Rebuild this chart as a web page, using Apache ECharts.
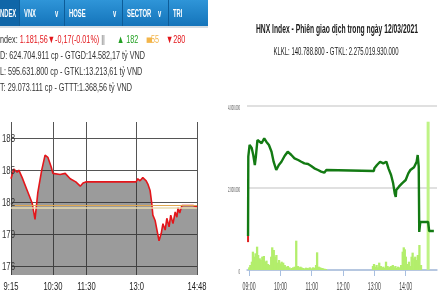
<!DOCTYPE html>
<html><head><meta charset="utf-8">
<script src="https://cdn.jsdelivr.net/npm/echarts@6/dist/echarts.min.js"></script>
<style>html,body{margin:0;padding:0;background:#fff}#c{width:440px;height:293px}</style>
</head><body><div id="c"></div>
<script>
// ---- Left panel: VN-Index intraday (clock minutes since 0:00) ----
const vnMinutes = [555,560,566,569,575,584,593,598,603,610,616,621,627,630,643,652,661,671,679,684,689,779,782,786,791,797,800,804,807,809,813,820,824,827,831,834,838,841,845,849,852,854,857,861,868,881,888];
const vnValues  = [1184.2,1185.1,1184.8,1185.0,1184.3,1183.1,1181.9,1180.4,1182.9,1185.0,1186.4,1186.2,1185.3,1184.7,1184.6,1184.7,1184.2,1183.9,1183.5,1183.8,1183.9,1183.9,1184.2,1184.0,1184.3,1184.0,1183.7,1183.1,1181.9,1180.8,1180.3,1178.4,1179.1,1180.0,1179.4,1180.5,1179.7,1180.8,1180.0,1181.1,1180.6,1181.5,1181.0,1181.7,1181.7,1181.7,1181.56];
const vnRefValue = 1181.73;
const vnTickMinutes = [555,630,690,780,888];
const vnTickLabels  = ['9:15','10:30','11:30','13:0','14:48'];
const vnYTicks = [1176,1179,1182,1185,1188];

// ---- Right panel: HNX intraday ----
const hnxMinutes = [538,538.5,541,545,548,551,553,556,559,564,569,573,578,583,587,592,597,602,608,614,621,627,634,640,646,653,659,665,672,678,684,688,779,780,785,791,797,803,807,812,816,819,821,822,827,833,840,845,849,856,861,863,865,866,868,883,885,894];
const hnxValues  = [830000,2763000,3049000,2976000,2805000,2561000,2763000,3171000,3212000,3090000,3212000,3130000,3049000,2885000,2641000,2439000,2561000,2641000,2780000,2885000,2805000,2724000,2683000,2641000,2600000,2585000,2537000,2480000,2439000,2400000,2373000,2439000,2415000,2480000,2561000,2641000,2600000,2641000,2480000,2317000,2114000,1870000,1780000,1951000,2032000,2114000,2195000,2358000,2439000,2505000,2641000,2805000,2520000,927000,1171000,1171000,951000,951000];
const hnxStartMinutes = [538,538];
const hnxStartValues  = [680000,830000];
const volMinutes = [541,543,546,548,551,553,556,558,561,563,566,569,571,574,577,580,583,585,588,590,593,595,598,600,603,606,609,612,615,618,622,625,628,631,634,636,639,641,644,647,650,653,657,660,663,666,669,671,674,677,680,682,685,688,778,780,783,785,788,790,793,796,798,801,803,806,808,811,813,816,819,821,824,826,829,832,835,837,839,841,844,847,849,852,854,857,859,862,864,867,870];
const volValues  = [65000,122000,203000,447000,325000,407000,569000,366000,285000,244000,325000,342000,203000,228000,146000,122000,325000,553000,488000,325000,366000,179000,244000,163000,203000,179000,122000,81000,98000,65000,49000,65000,81000,715000,98000,65000,81000,65000,49000,41000,57000,49000,65000,41000,65000,57000,122000,431000,81000,65000,49000,41000,33000,24000,98000,146000,81000,122000,65000,179000,98000,65000,81000,49000,203000,98000,65000,81000,98000,122000,65000,98000,49000,81000,65000,122000,447000,553000,504000,325000,146000,203000,98000,325000,423000,285000,325000,244000,366000,610000,122000];
const atcMinutes = [883];
const atcValues  = [3617000];
const hnxTickMinutes = [540,600,660,720,780,840];
const hnxYTicks = [0,2000000,4000000];

const zip = (a,b) => a.map((x,i)=>[x,b[i]]);

const chart = echarts.init(document.getElementById('c'));
chart.setOption({
  animation:false,
  backgroundColor:'#ffffff',
  grid:[{left:11, top:122, width:186, height:153},{left:247, top:106, width:190, height:164}],
  xAxis:[
    {gridIndex:0, type:'value', min:555, max:888,
     axisLine:{show:false}, axisTick:{show:false, customValues:vnTickMinutes},
     axisLabel:{show:false, customValues:vnTickMinutes},
     splitLine:{show:true, lineStyle:{color:'#555', width:1}}},
    {gridIndex:1, type:'value', min:536, max:900,
     axisLine:{show:true, lineStyle:{color:'#a8bfe0', width:1.5}},
     axisTick:{show:true, customValues:hnxTickMinutes, length:6, lineStyle:{color:'#a8bfe0', width:1}},
     axisLabel:{show:false}, splitLine:{show:false}}
  ],
  yAxis:[
    {gridIndex:0, type:'value', min:1175.2, max:1189.5,
     axisLine:{show:false}, axisTick:{show:false, customValues:vnYTicks},
     axisLabel:{show:false, customValues:vnYTicks},
     splitLine:{show:true, lineStyle:{color:'#555', width:1}}},
    {gridIndex:1, type:'value', min:0, max:4000000, interval:2000000,
     axisLine:{show:false}, axisTick:{show:false}, axisLabel:{show:false},
     splitLine:{show:true, lineStyle:{color:'#d6d6d6', width:1.5}}}
  ],
  series:[
    {type:'line', xAxisIndex:0, yAxisIndex:0, data:zip(vnMinutes,vnValues), showSymbol:false,
     lineStyle:{color:'#e3161b', width:1.6}, itemStyle:{color:'#e3161b'},
     areaStyle:{color:'#2a2a2a', opacity:0.47, origin:'start'},
     markLine:{silent:true, symbol:'none', label:{show:false},
       data:[{yAxis:vnRefValue, lineStyle:{color:'#e0a850', width:1, type:'solid'}},
             {yAxis:vnRefValue-0.2, lineStyle:{color:'#eadcb0', width:1.5, type:'solid'}}]}},
    {type:'bar', xAxisIndex:1, yAxisIndex:1, data:zip(volMinutes,volValues), barWidth:2.3, barGap:'-100%', itemStyle:{color:'#b3ee6c'}},
    {type:'bar', xAxisIndex:1, yAxisIndex:1, data:zip(atcMinutes,atcValues), barWidth:3, barGap:'-100%', itemStyle:{color:'#bff386'}},
    {type:'line', xAxisIndex:1, yAxisIndex:1, data:zip(hnxMinutes,hnxValues), showSymbol:false,
     lineStyle:{color:'#137a13', width:2.4}, itemStyle:{color:'#137a13'}},
    {type:'line', xAxisIndex:1, yAxisIndex:1, data:zip(hnxStartMinutes,hnxStartValues), showSymbol:false,
     lineStyle:{color:'#e02020', width:2}}
  ]
});

// ---- texts and header graphics ----
const mctx = document.createElement('canvas').getContext('2d');
function measure(text, font){ mctx.font = font; return mctx.measureText(text).width; }
function txt(x, y, text, o){
  const align = o.align || 'left';
  return {type:'text', x:x, y:y, scaleX:o.sx || 1, silent:true, z:100,
    style:{text:text, font:o.font, fill:o.fill || '#333', textAlign:align, align:align, textVerticalAlign:'middle', verticalAlign:'middle', rich:o.rich}};
}
const g = [];
// tab bar
g.push({type:'rect', shape:{x:0,y:0,width:208,height:26}, silent:true, z:90,
  style:{fill:new echarts.graphic.LinearGradient(0,0,0,1,[{offset:0,color:'#2f95d8'},{offset:1,color:'#1474ba'}])}});
g.push({type:'rect', shape:{x:0,y:0,width:19,height:26}, silent:true, z:91, style:{fill:'#0f66a8'}});
g.push({type:'rect', shape:{x:0,y:26,width:208,height:2}, silent:true, z:90, style:{fill:'#d5dde4'}});
[19,64,122,168].forEach(x=>g.push({type:'line', shape:{x1:x+0.5,y1:0,x2:x+0.5,y2:26}, silent:true, z:92, style:{stroke:'#0d5c98', lineWidth:1}}));
const tabFont = "bold 10px 'Liberation Sans',sans-serif";
const tabS = 12 / measure('VNX', tabFont);
[[0,'NDEX'],[24,'VNX'],[69,'HOSE'],[127,'SECTOR'],[173,'TRI'],[55,'v'],[113,'v'],[158,'v']].forEach(t=>g.push(txt(t[0],14,t[1],{font:tabFont, fill:'#ffffff', sx:tabS})));

// left header lines
const hFont = "11px 'Liberation Sans',sans-serif";
const line2 = 'D: 624.704.911 cp - GTGD:14.582,17 tỷ VND';
const hS = 145 / measure(line2, hFont);
g.push(txt(0,40,'{k|ndex: }{r|1.181,56▼-0,17(-0.01%)}{g| ||}',{font:hFont, sx:hS,
  rich:{k:{fill:'#333',color:'#333',font:hFont}, r:{fill:'#e3161b',color:'#e3161b',font:hFont}, g:{fill:'#666',color:'#666',font:hFont}}}));
g.push(txt(117,40,'▲ 182',{font:hFont, sx:hS, fill:'#23a023'}));
g.push(txt(146,40,'■',{font:"7px 'DejaVu Sans',sans-serif", sx:1, fill:'#f3b54a'}));
g.push(txt(151,40,'55',{font:hFont, sx:hS, fill:'#f3b54a'}));
g.push(txt(166,40,'▼280',{font:hFont, sx:hS, fill:'#e3161b'}));
g.push(txt(0,56,line2,{font:hFont, sx:hS}));
g.push(txt(0,72,'L: 595.631.800 cp - GTKL:13.213,61 tỷ VND',{font:hFont, sx:hS}));
g.push(txt(0,88,'T: 29.073.111 cp - GTTT:1.368,56 tỷ VND',{font:hFont, sx:hS}));

// left axis labels placed through the chart's own scales
const lFont = "10px 'Liberation Sans',sans-serif";
const lyS = 13 / measure('188', lFont);
vnYTicks.forEach(v=>{
  const p = chart.convertToPixel({gridIndex:0},[555,v]);
  g.push(txt(p[0]+4, p[1]+1, String(v).slice(1), {font:lFont, fill:'#333', align:'right', sx:lyS}));
});
const lxS = 19 / measure('10:30', lFont);
vnTickMinutes.forEach((m,i)=>{
  const p = chart.convertToPixel({gridIndex:0},[m,1175.2]);
  g.push(txt(p[0], p[1]+12, vnTickLabels[i], {font:lFont, fill:'#222', align:'center', sx:lxS}));
});

// right titles
const tFont = "bold 12px 'Liberation Sans',sans-serif";
const title = 'HNX Index - Phiên giao dịch trong ngày 12/03/2021';
g.push(txt(337,30,title,{font:tFont, fill:'#1a1a1a', align:'center', sx:162/measure(title,tFont)}));
const sFont = "11px 'Liberation Sans',sans-serif";
const sub = 'KLKL: 140.788.800 - GTKL: 2.275.019.930.000';
g.push(txt(336,52,sub,{font:sFont, fill:'#1a1a1a', align:'center', sx:125/measure(sub,sFont)}));

// right axis labels placed through the chart's own scales
const yFont = "8px 'Liberation Sans',sans-serif";
const yS = 12 / measure('4.000.000', yFont);
hnxYTicks.forEach(v=>{
  const p = chart.convertToPixel({gridIndex:1},[536,v]);
  const label = v.toLocaleString('de-DE');
  g.push(txt(p[0]-7, p[1]+2, label, {font:yFont, fill:'#444', align:'right', sx:yS}));
});
const xFont = "10px 'Liberation Sans',sans-serif";
const xS = 13 / measure('09:00', xFont);
hnxTickMinutes.forEach(m=>{
  const p = chart.convertToPixel({gridIndex:1},[m,0]);
  const label = String(Math.floor(m/60)).padStart(2,'0')+':'+String(m%60).padStart(2,'0');
  g.push(txt(p[0], p[1]+17, label, {font:xFont, fill:'#444', align:'center', sx:xS}));
});
chart.setOption({graphic:g});
</script></body></html>
